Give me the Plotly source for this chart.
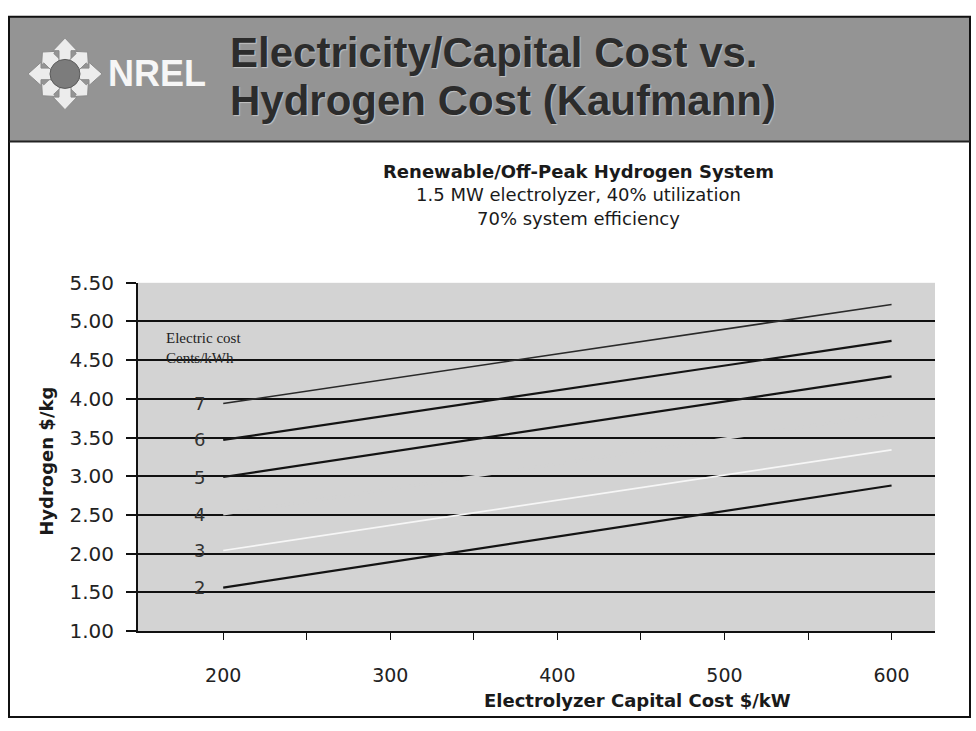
import math
import plotly.graph_objects as go

# ---- data -------------------------------------------------------------
capital_cost = [200, 600]                      # electrolyzer capital cost, $/kW
electric_cents = ["2", "3", "4", "5", "6", "7"]  # electricity cost, cents/kWh
h2_cost_2 = [1.56, 2.88]
h2_cost_3 = [2.04, 3.34]
h2_cost_4 = [2.51, 3.81]
h2_cost_5 = [2.99, 4.29]
h2_cost_6 = [3.47, 4.75]
h2_cost_7 = [3.94, 5.22]

x_tickvals = [200, 250, 300, 350, 400, 450, 500, 550, 600]
x_ticktext = ["200", "", "300", "", "400", "", "500", "", "600"]
y_tickvals = [1.0, 1.5, 2.0, 2.5, 3.0, 3.5, 4.0, 4.5, 5.0, 5.5]
y_ticktext = ["1.00", "1.50", "2.00", "2.50", "3.00", "3.50", "4.00", "4.50", "5.00", "5.50"]

title_lines = ["Electricity/Capital Cost vs.", "Hydrogen Cost (Kaufmann)"]
subtitle_lines = ["Renewable/Off-Peak Hydrogen System",
                  "1.5 MW electrolyzer, 40% utilization",
                  "70% system efficiency"]

# ---- page geometry (pixels) -------------------------------------------
W, H = 976, 731
PLOT_BG = "#d3d3d3"
HEADER_BG = "#949494"


def px(x):
    return x / W


def py(y):
    return 1 - y / H


series = [
    ("4", h2_cost_4, PLOT_BG, 2.6),
    ("2", h2_cost_2, "#141414", 2.2),
    ("3", h2_cost_3, "#f6f6f6", 1.7),
    ("5", h2_cost_5, "#141414", 2.2),
    ("6", h2_cost_6, "#141414", 2.2),
    ("7", h2_cost_7, "#2a2a2a", 1.6),
]

fig = go.Figure()
for name, vals, color, width in series:
    fig.add_trace(go.Scatter(
        x=capital_cost, y=vals, mode="lines", name=name,
        line=dict(color=color, width=width), showlegend=False,
        hoverinfo="skip",
    ))

# ---- decorative page shapes --------------------------------------------
shapes = []
# header band
shapes.append(dict(type="rect", xref="paper", yref="paper", layer="below",
                   x0=px(8), x1=px(970), y0=py(134), y1=py(5),
                   fillcolor=HEADER_BG, line=dict(width=0)))
# outer frame
shapes.append(dict(type="rect", xref="paper", yref="paper", layer="above",
                   x0=px(9), x1=px(970), y0=py(729), y1=py(5),
                   line=dict(color="#111", width=2)))
# header rule
shapes.append(dict(type="line", xref="paper", yref="paper", layer="above",
                   x0=px(9), x1=px(970), y0=py(134), y1=py(134),
                   line=dict(color="#222", width=2)))

# logo: hub with eight arrows
cx, cy = 65, 64


def arrow(angle_deg, r0, r1, r2, ws, wh):
    a = math.radians(angle_deg)
    ux, uy = math.cos(a), math.sin(a)
    vx, vy = -uy, ux
    pts = [
        (r0, -ws / 2), (r1, -ws / 2), (r1, -wh / 2), (r2, 0),
        (r1, wh / 2), (r1, ws / 2), (r0, ws / 2),
    ]
    coords = [(cx + r * ux + s * vx, cy + r * uy + s * vy) for r, s in pts]
    d = "M " + " L ".join(f"{px(x):.5f},{py(y):.5f}" for x, y in coords) + " Z"
    return d


for k in range(8):
    ang = k * 45
    if k % 2 == 0:
        d = arrow(ang, 13, 24, 37, 12, 24)
    else:
        d = arrow(ang, 13, 23, 32, 14, 20)
    shapes.append(dict(type="path", xref="paper", yref="paper", layer="above",
                       path=d, fillcolor="#ececec",
                       line=dict(color="#8a8a8a", width=1)))
shapes.append(dict(type="circle", xref="paper", yref="paper", layer="above",
                   x0=px(cx - 15), x1=px(cx + 15), y0=py(cy + 15), y1=py(cy - 15),
                   fillcolor="#7c7c7c", line=dict(color="#5a5a5a", width=1)))

# ---- annotations -------------------------------------------------------
SANS = "DejaVu Sans, Verdana, sans-serif"
ann = []
ann.append(dict(text="NREL", x=px(106), y=py(64), xref="paper", yref="paper",
                xanchor="left", yanchor="middle", showarrow=False,
                font=dict(family="Liberation Sans, Arial", size=36, color="#f6f6f6",
                          weight="bold")))
for line, yy in zip(title_lines, [42, 92]):
    ann.append(dict(text=line, x=px(228), y=py(yy), xref="paper", yref="paper",
                    xanchor="left", yanchor="middle", showarrow=False,
                    font=dict(family="Liberation Sans, Arial", size=42, color="#2c2c2c",
                              weight="bold", shadow="1px 1px 1px #c4c4c4")))

subtitle_text = "<b>" + subtitle_lines[0] + "</b><br>" + "<br>".join(subtitle_lines[1:])
ann.append(dict(text=subtitle_text, x=px(578), y=py(189), xref="paper", yref="paper",
                xanchor="center", yanchor="middle", align="center", showarrow=False,
                font=dict(family=SANS, size=18, color="#1a1a1a")))

ann.append(dict(text="Electric cost<br>Cents/kWh", x=px(164), y=py(347),
                xref="paper", yref="paper", xanchor="left", yanchor="middle",
                align="left", showarrow=False,
                font=dict(family="Liberation Serif, Times New Roman, serif", size=15,
                          color="#222")))

# curve labels at the start of each line
for name, vals in [("2", h2_cost_2), ("3", h2_cost_3), ("4", h2_cost_4),
                   ("5", h2_cost_5), ("6", h2_cost_6), ("7", h2_cost_7)]:
    ann.append(dict(text=name, x=186, y=vals[0], xref="x", yref="y",
                    xanchor="center", yanchor="middle", showarrow=False,
                    font=dict(family=SANS, size=18, color="#333")))

ann.append(dict(text="Hydrogen $/kg", x=px(47), y=py(465), xref="paper", yref="paper",
                xanchor="center", yanchor="middle", textangle=-90, showarrow=False,
                font=dict(family=SANS, size=18, color="#1a1a1a", weight="bold")))
ann.append(dict(text="Electrolyzer Capital Cost $/kW", x=px(637), y=py(712),
                xref="paper", yref="paper", xanchor="center", yanchor="middle",
                showarrow=False,
                font=dict(family=SANS, size=18, color="#1a1a1a", weight="bold")))

fig.update_layout(
    width=W, height=H,
    margin=dict(l=0, r=0, t=0, b=0),
    paper_bgcolor="white",
    plot_bgcolor=PLOT_BG,
    shapes=shapes,
    annotations=ann,
    xaxis=dict(
        domain=[px(138), px(935)], range=[149, 626],
        tickmode="array", tickvals=x_tickvals, ticktext=x_ticktext,
        ticks="outside", ticklen=7, tickwidth=1.2, tickcolor="#111",
        showline=True, linecolor="#111", linewidth=2,
        showgrid=False, zeroline=False, ticklabelstandoff=19,
        tickfont=dict(family=SANS, size=19, color="#222"),
        fixedrange=True,
    ),
    yaxis=dict(
        domain=[py(640), py(280)], range=[1.0, 5.5],
        tickmode="array", tickvals=y_tickvals, ticktext=y_ticktext,
        ticks="outside", ticklen=10, tickwidth=1.6, tickcolor="#111",
        showline=True, linecolor="#111", linewidth=2,
        showgrid=True, gridcolor="#111", gridwidth=1.6, zeroline=False,
        ticklabelstandoff=8,
        tickfont=dict(family=SANS, size=20, color="#222"),
        fixedrange=True,
    ),
)

fig.write_html("out.html")
